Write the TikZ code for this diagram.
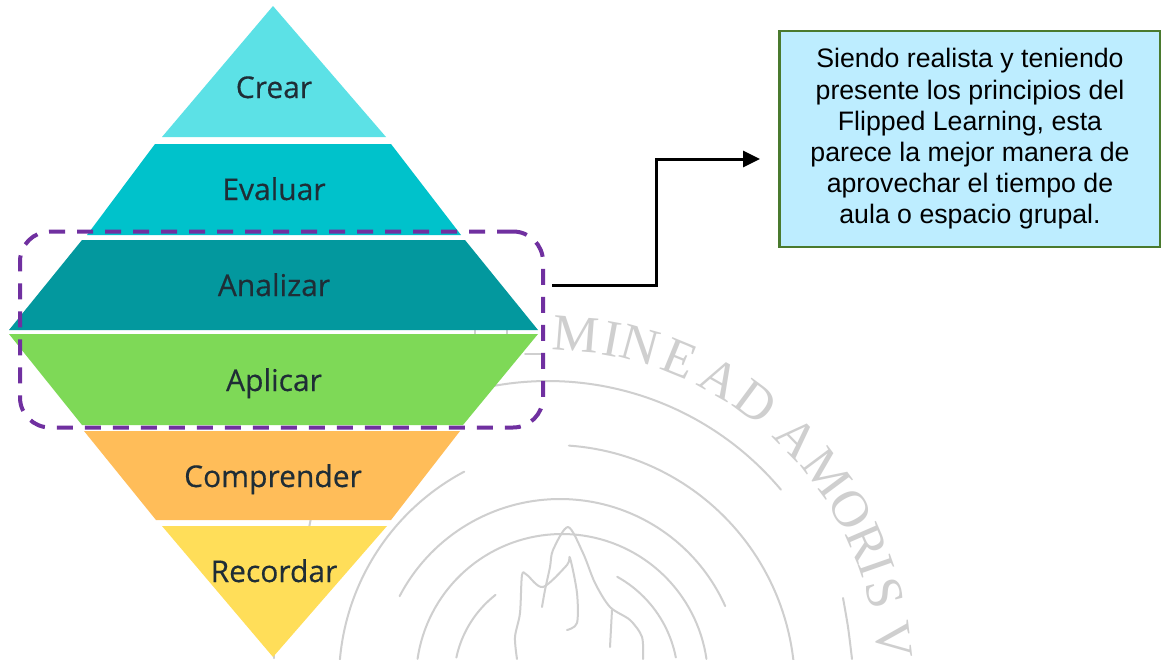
\documentclass[tikz,border=0pt]{standalone}
\usepackage{fontspec}
\setmainfont{Liberation Sans}
\newfontfamily\labelfont[FakeBold=0.35]{Open Sans}
\newfontfamily\markfont{Liberation Serif}
\definecolor{crearc}{HTML}{5CE1E6}
\definecolor{evalc}{HTML}{00C2CB}
\definecolor{analc}{HTML}{03989E}
\definecolor{aplic}{HTML}{7ED957}
\definecolor{compc}{HTML}{FFBD59}
\definecolor{recoc}{HTML}{FFDE59}
\definecolor{inkc}{HTML}{1F2D36}
\definecolor{purp}{HTML}{7030A0}
\definecolor{boxfill}{HTML}{BDEDFF}
\definecolor{boxline}{HTML}{4A7A2E}
\definecolor{markc}{HTML}{CFCFCF}
\usetikzlibrary{arrows.meta}
\tikzset{
  level/.style={font=\labelfont\fontsize{30}{32}\selectfont,text=inkc,inner sep=0pt,anchor=base},
  markline/.style={draw=markc,line width=2pt,line cap=round,line join=round},
  markletter/.style={font=\markfont\fontsize{52}{52}\selectfont,text=markc,inner sep=0pt},
  notebox/.style={draw=boxline,line width=2.5pt,fill=boxfill,minimum width=381pt,minimum height=216pt,inner sep=0pt,align=center,font=\fontsize{26.7}{31.2}\selectfont,text=black},
  dashbox/.style={draw=purp,line width=4pt,dash pattern=on 16pt off 12pt,rounded corners=30pt,minimum width=523pt,minimum height=196pt,inner sep=0pt},
  link/.style={draw=black,line width=3pt,-{Triangle[length=17pt,width=16pt]}}
}
\begin{document}
\begin{tikzpicture}[x=1pt,y=-1pt]
\useasboundingbox (0,0) rectangle (1161,659);
\fill[white] (0,0) rectangle (1161,659);
% watermark
\foreach \lt/\an [count=\i] in {M/85.4,I/79.4,N/74.6,E/67.8,A/60.3,D/53.4,A/44.3,M/36.7,O/29.6,R/23.4,I/19.3,S/14.7,V/6.7}{
  \node[markletter,rotate=\an-90] (wm\i) at ({548+348*cos(\an)},{681-348*sin(\an)}) {\lt};
}
\draw[markline] plot[domain=101:40,samples=50] ({548+304*cos(\x)},{685-304*sin(\x)});
\draw[markline] plot[domain=118:175,samples=50] ({575+236*cos(\x)},{680-236*sin(\x)});
\draw[markline] plot[domain=86:-7,samples=60] ({552+243*cos(\x)},{688-243*sin(\x)});
\draw[markline] plot[domain=152.4:24.1,samples=70] ({560+181*cos(\x)},{680-181*sin(\x)});
\draw[markline] plot[domain=171.7:8.3,samples=70] ({562+146*cos(\x)},{680-146*sin(\x)});
\draw[markline] plot[domain=168:128,samples=25] ({562+108*cos(\x)},{680-108*sin(\x)});
\draw[markline] plot[domain=61:11,samples=25] ({560+118*cos(\x)},{680-118*sin(\x)});
\draw[markline] plot[smooth] coordinates {(843,598) (848,627) (852,659)};
\draw[markline] plot[smooth] coordinates {(542,607) (545,590) (550,567) (553,550) (568,527) (583,553) (595,583) (610,607) (630,620) (642,637) (643,659)};
\draw[markline] plot[smooth] coordinates {(612,610) (610,647)};
\draw[markline] plot[smooth] coordinates {(517,659) (515,637) (520,613) (522,575) (527,575) (543,587) (567,565) (570,558) (577,593) (577,623) (567,630)};
\draw[markline] (475,328) -- (475,336);
\draw[markline] (507,328) -- (507,336);
\draw[markline] (525,354) -- (543,354);
\draw[markline] (311,518) -- (309,528);
\draw[markline] (274,652) -- (274,658);
% pyramid
\fill[crearc] (273,6) -- (386,137) -- (162,137) -- cycle;
\fill[evalc] (155,144) -- (391,144) -- (461,235) -- (87,235) -- cycle;
\fill[analc] (82,240) -- (465,240) -- (538,330) -- (9,330) -- cycle;
\fill[aplic] (9,334) -- (538,334) -- (463,425) -- (82,425) -- cycle;
\fill[compc] (84,431) -- (460,431) -- (391,520) -- (156,520) -- cycle;
\fill[recoc] (162,526) -- (387,526) -- (273,657) -- cycle;
\node[level] (crear) at (274,98) {Crear};
\node[level] (evaluar) at (274,200) {Evaluar};
\node[level] (analizar) at (274,296) {Analizar};
\node[level] (aplicar) at (274,391) {Aplicar};
\node[level] (comprender) at (273,487) {Comprender};
\node[level] (recordar) at (274,582) {Recordar};
\node[dashbox] (group) at (281.5,329.5) {};
\node[notebox] (note) at (970,139) {Siendo realista y teniendo\\presente los principios del\\Flipped Learning, esta\\parece la mejor manera de\\aprovechar el tiempo de\\aula o espacio grupal.};
\coordinate (linkstart) at (552,285);
\coordinate (linkend) at (760,159);
\draw[link] (linkstart) -| (656,159) -- (linkend);
\end{tikzpicture}
\end{document}
